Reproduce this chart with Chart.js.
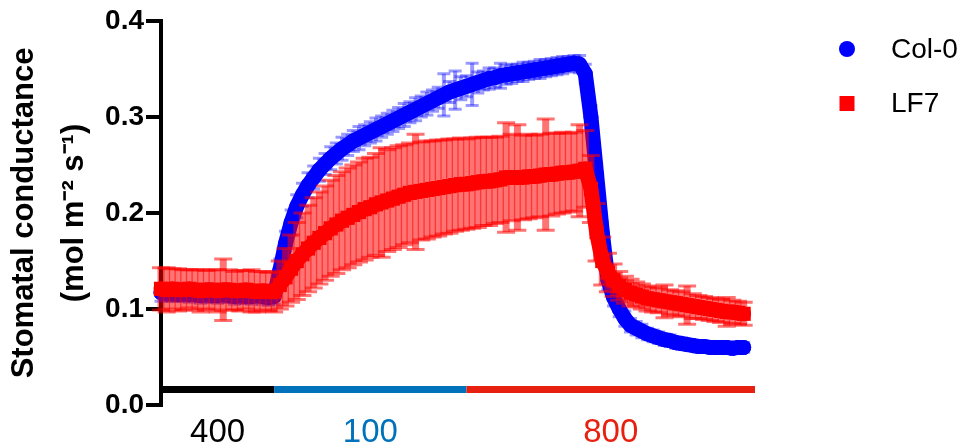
<!DOCTYPE html>
<html>
<head>
<meta charset="utf-8">
<script src="https://cdn.jsdelivr.net/npm/chart.js@4.4.1/dist/chart.umd.min.js"></script>
<style>
    html, body { margin: 0; padding: 0; background: #fff; }
    #wrap { width: 968px; height: 448px; }
</style>
</head>
<body>
<div id="wrap"><canvas id="gsChart" width="968" height="448"></canvas></div>
<script>
/**
 * Stomatal conductance under CO2 steps (400 -> 100 -> 800 ppm)
 */

Chart.defaults.font.family = '"Liberation Sans", Arial, Helvetica, sans-serif';
Chart.defaults.color = '#000';

// one reading per minute, t = 0 .. 103 min
const STEP_MIN = 1;

// Col-0 mean and SE
const colMean = [
    0.117, 0.116, 0.116, 0.115, 0.116, 0.115, 0.115, 0.114, 0.115, 0.114, 0.114,
    0.115, 0.114, 0.113, 0.114, 0.113, 0.113, 0.114, 0.113, 0.112, 0.113,
    0.140, 0.168, 0.190, 0.207, 0.219, 0.229, 0.237, 0.245, 0.251, 0.257,
    0.262, 0.267, 0.271, 0.275, 0.278, 0.281, 0.284, 0.287, 0.290, 0.293,
    0.296, 0.299, 0.302, 0.305, 0.308, 0.311, 0.314, 0.317, 0.320, 0.323,
    0.326, 0.328, 0.330, 0.332, 0.334, 0.336, 0.338, 0.340, 0.341, 0.343,
    0.344, 0.345, 0.346, 0.347, 0.348, 0.349, 0.350, 0.351, 0.352, 0.353,
    0.354, 0.355, 0.356, 0.355, 0.345, 0.300, 0.240, 0.180, 0.130, 0.112,
    0.100, 0.090, 0.083, 0.080, 0.077, 0.074, 0.072, 0.070, 0.068, 0.067,
    0.065, 0.064, 0.063, 0.062, 0.061, 0.061, 0.060, 0.060, 0.060, 0.060,
    0.059, 0.060, 0.060
];
const colErr = [
    0.009, 0.008, 0.008, 0.007, 0.008, 0.008, 0.007, 0.008, 0.008, 0.007, 0.008,
    0.008, 0.007, 0.008, 0.008, 0.007, 0.008, 0.007, 0.008, 0.008, 0.008,
    0.012, 0.013, 0.013, 0.012, 0.012, 0.013, 0.012, 0.012, 0.011, 0.012,
    0.011, 0.012, 0.011, 0.011, 0.012, 0.011, 0.011, 0.012, 0.011, 0.011,
    0.011, 0.011, 0.012, 0.011, 0.012, 0.011, 0.012, 0.011, 0.011, 0.022,
    0.011, 0.020, 0.012, 0.011, 0.022, 0.011, 0.010, 0.011, 0.010, 0.013,
    0.010, 0.010, 0.009, 0.010, 0.009, 0.009, 0.010, 0.009, 0.009, 0.009,
    0.009, 0.008, 0.008, 0.009, 0.010, 0.012, 0.012, 0.011, 0.010, 0.009,
    0.008, 0.008, 0.007, 0.007, 0.007, 0.006, 0.006, 0.006, 0.006, 0.006,
    0.006, 0.006, 0.005, 0.005, 0.006, 0.005, 0.005, 0.005, 0.005, 0.005,
    0.005, 0.005, 0.005
];

// LF7 mean and SE
const lf7Mean = [
    0.121, 0.120, 0.121, 0.120, 0.120, 0.121, 0.120, 0.119, 0.120, 0.120, 0.119,
    0.120, 0.120, 0.119, 0.119, 0.120, 0.119, 0.118, 0.119, 0.118, 0.118,
    0.125, 0.133, 0.142, 0.150, 0.157, 0.163, 0.169, 0.174, 0.179, 0.184,
    0.188, 0.192, 0.195, 0.198, 0.201, 0.204, 0.206, 0.209, 0.211, 0.213,
    0.215, 0.217, 0.219, 0.221, 0.222, 0.223, 0.224, 0.225, 0.226, 0.227,
    0.228, 0.229, 0.230, 0.230, 0.231, 0.232, 0.233, 0.233, 0.234, 0.235,
    0.237, 0.237, 0.237, 0.237, 0.238, 0.238, 0.239, 0.240, 0.240, 0.241,
    0.242, 0.242, 0.243, 0.244, 0.246, 0.225, 0.180, 0.150, 0.138, 0.130,
    0.124, 0.120, 0.117, 0.115, 0.113, 0.111, 0.110, 0.109, 0.108, 0.107,
    0.106, 0.105, 0.104, 0.103, 0.102, 0.101, 0.100, 0.099, 0.098, 0.097,
    0.097, 0.096, 0.095
];
const lf7Err = [
    0.022, 0.023, 0.021, 0.022, 0.021, 0.020, 0.021, 0.022, 0.020, 0.021, 0.022,
    0.032, 0.021, 0.020, 0.021, 0.020, 0.022, 0.021, 0.020, 0.020, 0.021,
    0.025, 0.030, 0.035, 0.040, 0.043, 0.045, 0.047, 0.048, 0.049, 0.050,
    0.051, 0.051, 0.052, 0.052, 0.052, 0.053, 0.052, 0.053, 0.057, 0.053,
    0.053, 0.053, 0.052, 0.052, 0.060, 0.051, 0.051, 0.050, 0.050, 0.049,
    0.049, 0.048, 0.048, 0.047, 0.047, 0.047, 0.046, 0.046, 0.045, 0.045,
    0.057, 0.045, 0.055, 0.044, 0.044, 0.043, 0.043, 0.058, 0.043, 0.042,
    0.042, 0.041, 0.041, 0.048, 0.040, 0.035, 0.030, 0.025, 0.020, 0.017,
    0.015, 0.014, 0.014, 0.013, 0.013, 0.013, 0.013, 0.013, 0.017, 0.013,
    0.013, 0.013, 0.020, 0.013, 0.012, 0.012, 0.012, 0.012, 0.012, 0.015,
    0.012, 0.012, 0.012
];

// CO2 steps shown under the plot (ppm), in minutes
const co2Labels = ['400', '100', '800'];
const co2Start = [0, 20, 54];
const co2End = [20, 54, 105];
const co2Colors = ['#000000', '#0072bc', '#e8200f'];

const toPoints = (means) => means.map((y, i) => ({ x: i * STEP_MIN, y }));

// SE bars, drawn just before each dataset's own markers
const errorBarPlugin = {
    id: 'errorBars',
    beforeDatasetDraw(chart, args) {
        const ds = chart.data.datasets[args.index];
        if (!ds.errors) return;
        const { ctx } = chart;
        const y = chart.scales.y;
        ctx.save();
        ctx.strokeStyle = ds.errorColor;
        args.meta.data.forEach((pt, i) => {
            const v = ds.data[i].y;
            const e = ds.errors[i];
            const top = y.getPixelForValue(v + e);
            const bot = y.getPixelForValue(v - e);
            ctx.lineWidth = ds.errorWidth;
            ctx.beginPath();
            ctx.moveTo(pt.x, top);
            ctx.lineTo(pt.x, bot);
            ctx.stroke();
            ctx.lineWidth = 3;
            ctx.beginPath();
            ctx.moveTo(pt.x - ds.capWidth / 2, top);
            ctx.lineTo(pt.x + ds.capWidth / 2, top);
            ctx.moveTo(pt.x - ds.capWidth / 2, bot);
            ctx.lineTo(pt.x + ds.capWidth / 2, bot);
            ctx.stroke();
        });
        ctx.restore();
    }
};

// coloured CO2 bar + ppm labels under the plot
const co2BarPlugin = {
    id: 'co2Bar',
    afterDraw(chart) {
        const { ctx, chartArea } = chart;
        const x = chart.scales.x;
        const barY = chartArea.bottom - 15.5;
        ctx.save();
        ctx.lineWidth = 7;
        ctx.lineCap = 'butt';
        ctx.font = '33px "Liberation Sans", Arial, sans-serif';
        ctx.textAlign = 'center';
        ctx.textBaseline = 'middle';
        co2Labels.forEach((lab, i) => {
            const x0 = i === 0 ? chartArea.left : x.getPixelForValue(co2Start[i]);
            const x1 = x.getPixelForValue(co2End[i]);
            ctx.strokeStyle = co2Colors[i];
            ctx.beginPath();
            ctx.moveTo(x0, barY);
            ctx.lineTo(x1, barY);
            ctx.stroke();
            ctx.fillStyle = co2Colors[i];
            ctx.fillText(lab, (x0 + x1) / 2, chartArea.bottom + 28);
        });
        ctx.restore();
    }
};

// legend on the right, Prism style
const sideLegendPlugin = {
    id: 'sideLegend',
    afterDraw(chart) {
        const { ctx, chartArea } = chart;
        ctx.save();
        ctx.font = '28px "Liberation Sans", Arial, sans-serif';
        ctx.textBaseline = 'middle';
        ctx.textAlign = 'left';
        chart.data.datasets.forEach((ds, i) => {
            const cx = chartArea.right + 92;
            const cy = 49 + i * 54.5;
            ctx.fillStyle = ds.pointBackgroundColor;
            ctx.beginPath();
            if (ds.pointStyle === 'circle') {
                ctx.arc(cx, cy, 8, 0, Math.PI * 2);
            } else {
                ctx.rect(cx - 7.5, cy - 7.5, 15, 15);
            }
            ctx.fill();
            ctx.fillStyle = '#000';
            ctx.fillText(ds.label, chartArea.right + 136, cy + 1);
        });
        ctx.restore();
    }
};

function createChart() {
    const ctx = document.getElementById('gsChart').getContext('2d');

    return new Chart(ctx, {
        type: 'line',
        data: {
            datasets: [
                {
                    label: 'Col-0',
                    data: toPoints(colMean),
                    errors: colErr,
                    errorColor: 'rgba(0, 0, 255, 0.4)',
                    errorWidth: 4,
                    capWidth: 13,
                    borderColor: '#0000ff',
                    borderWidth: 15,
                    borderJoinStyle: 'round',
                    borderCapStyle: 'round',
                    pointStyle: 'circle',
                    pointRadius: 7.5,
                    pointBackgroundColor: '#0000ff',
                    pointBorderWidth: 0,
                    tension: 0,
                    clip: false,
                    order: 2
                },
                {
                    label: 'LF7',
                    data: toPoints(lf7Mean),
                    errors: lf7Err,
                    errorColor: 'rgba(255, 0, 0, 0.55)',
                    errorWidth: 7,
                    capWidth: 18,
                    borderColor: '#ff0000',
                    borderWidth: 15,
                    borderJoinStyle: 'round',
                    borderCapStyle: 'round',
                    pointStyle: 'rect',
                    pointRadius: 10,
                    pointBackgroundColor: '#ff0000',
                    pointBorderWidth: 0,
                    tension: 0,
                    clip: false,
                    order: 1
                }
            ]
        },
        options: {
            responsive: false,
            animation: false,
            layout: {
                padding: { left: 0, right: 213, top: 21, bottom: 43 }
            },
            plugins: {
                legend: { display: false },
                tooltip: { enabled: false }
            },
            scales: {
                x: {
                    type: 'linear',
                    min: 0,
                    max: 105,
                    display: false
                },
                y: {
                    min: 0,
                    max: 0.4,
                    afterFit: (scale) => { scale.width = 161; },
                    border: { display: true, width: 4, color: '#000' },
                    grid: {
                        drawOnChartArea: false,
                        drawTicks: true,
                        tickLength: 15,
                        lineWidth: 4,
                        color: '#000'
                    },
                    ticks: {
                        stepSize: 0.1,
                        padding: 2,
                        color: '#000',
                        font: { size: 28, weight: 'bold' },
                        callback: (v) => v.toFixed(1)
                    },
                    title: {
                        display: true,
                        text: ['Stomatal conductance', '(mol m\u207B\u00B2 s\u207B\u00B9)'],
                        color: '#000',
                        padding: { top: 0, bottom: 0 },
                        font: { size: 31, weight: 'bold', lineHeight: 1.6 }
                    }
                }
            }
        },
        plugins: [errorBarPlugin, co2BarPlugin, sideLegendPlugin]
    });
}

createChart();
</script>
</body>
</html>
